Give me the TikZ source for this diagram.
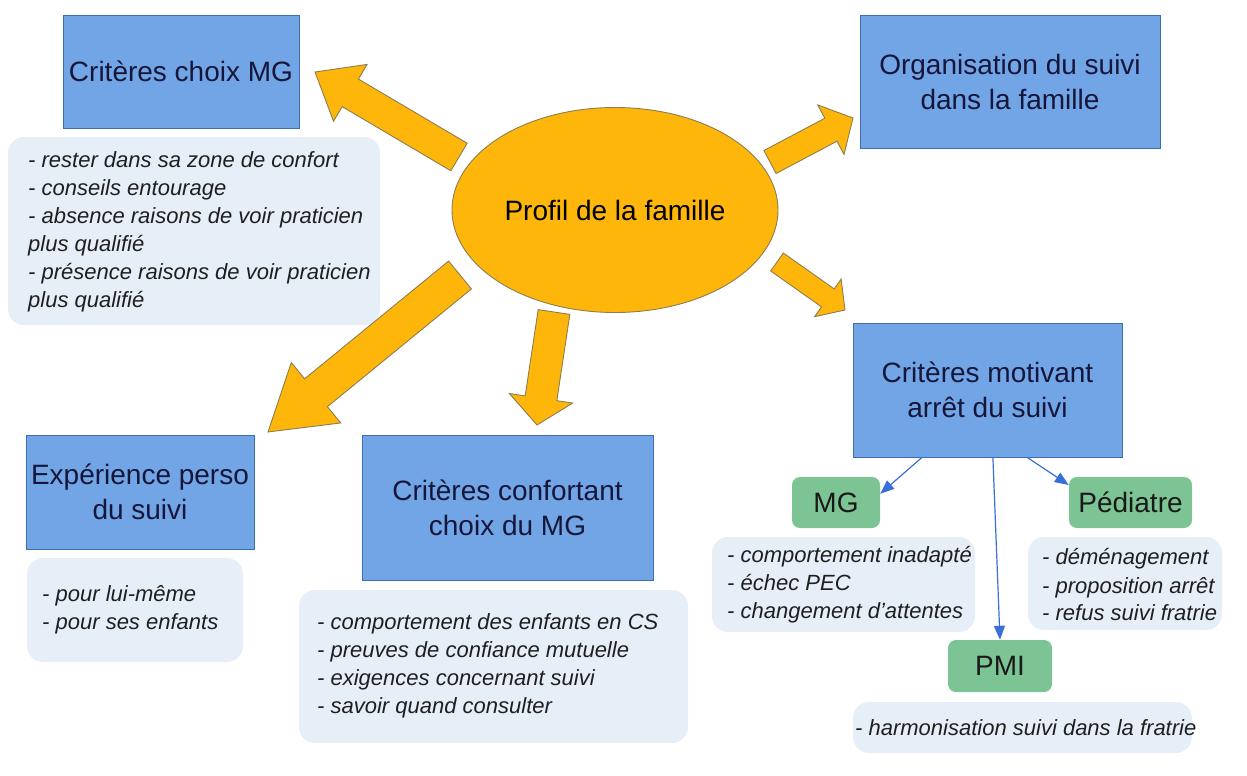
\documentclass[tikz,border=0pt]{standalone}
\usepackage{fontspec}
\setmainfont{Liberation Sans}
\usetikzlibrary{calc,shapes.geometric,arrows.meta}
\definecolor{boxblue}{HTML}{72A5E6}
\definecolor{boxborder}{HTML}{3C6EB4}
\definecolor{orangefill}{HTML}{FFB60A}
\definecolor{orangeline}{HTML}{8C7D50}
\definecolor{greenfill}{HTML}{7DC495}
\definecolor{lightfill}{HTML}{E6EFF8}
\definecolor{navy}{HTML}{16163A}
\definecolor{connblue}{HTML}{3A6FD8}
\newcommand\blockarr[5]{%
  \path ($(#2)!#5!(#1)$) coordinate (ba);
  \draw[blockarrow] ($(#1)!#3!90:(#2)$) -- ($(ba)!#3!90:(#2)$) -- ($(ba)!#4!90:(#2)$) -- (#2) -- ($(ba)!#4!-90:(#2)$) -- ($(ba)!#3!-90:(#2)$) -- ($(#1)!#3!-90:(#2)$) -- cycle;}
\begin{document}
\begin{tikzpicture}[x=1pt,y=-1pt,
  bluebox/.style={draw=boxborder, line width=0.8pt, fill=boxblue, text=navy, font=\fontsize{28}{35}\selectfont, align=center, inner sep=0pt},
  lightbox/.style={fill=lightfill, rounded corners=16pt, inner sep=0pt},
  listtext/.style={font=\itshape\fontsize{22}{28}\selectfont, align=left, text=black!88, inner sep=0pt, anchor=west},
  greenbox/.style={fill=greenfill, rounded corners=8pt, font=\fontsize{28}{34}\selectfont, text=black!90, inner sep=0pt},
  blockarrow/.style={fill=orangefill, draw=orangeline, line width=0.9pt, line join=miter},
  conn/.style={draw=connblue, line width=1.2pt, -{Triangle[length=14pt,width=11pt]}}
]
\useasboundingbox (0,0) rectangle (1247,776);

% light boxes
\node[lightbox, minimum width=372pt, minimum height=188pt] (l1) at (194,231) {};
\node[lightbox, minimum width=216pt, minimum height=104pt] (l2) at (135,610) {};
\node[lightbox, minimum width=389pt, minimum height=153pt] (l3) at (493.5,666.5) {};
\node[lightbox, minimum width=263pt, minimum height=95pt] (l4) at (843.5,584.5) {};
\node[lightbox, minimum width=194pt, minimum height=93pt] (l5) at (1125,583.5) {};
\node[lightbox, minimum width=339pt, minimum height=51pt] (l6) at (1022.5,727.5) {};

\node[listtext] (l1t) at (28,232) {- rester dans sa zone de confort\\- conseils entourage\\- absence raisons de voir praticien\\plus qualifié\\- présence raisons de voir praticien\\plus qualifié};
\node[listtext] (l2t) at (42,610) {- pour lui-même\\- pour ses enfants};
\node[listtext] (l3t) at (317,666) {- comportement des enfants en CS\\- preuves de confiance mutuelle\\- exigences concernant suivi\\- savoir quand consulter};
\node[listtext] (l4t) at (727,585) {- comportement inadapté\\- échec PEC\\- changement d'attentes};
\node[listtext] (l5t) at (1042,585) {- déménagement\\- proposition arrêt\\- refus suivi fratrie};
\node[listtext] (l6t) at (855,728) {- harmonisation suivi dans la fratrie};

% blue boxes
\node[bluebox, minimum width=236pt, minimum height=113pt] (b1) at (181,71.5) {Critères choix MG};
\node[bluebox, minimum width=300pt, minimum height=133pt] (b2) at (1010,81.5) {Organisation du suivi\\dans la famille};
\node[bluebox, minimum width=269pt, minimum height=134pt] (b3) at (987.5,390) {Critères motivant\\arrêt du suivi};
\node[bluebox, minimum width=228pt, minimum height=114pt] (b4) at (140,492) {Expérience perso\\du suivi};
\node[bluebox, minimum width=291pt, minimum height=145pt] (b5) at (507.5,507.5) {Critères confortant\\choix du MG};

% green boxes
\node[greenbox, minimum width=88pt, minimum height=51pt] (g1) at (836,502.5) {MG};
\node[greenbox, minimum width=123pt, minimum height=51pt] (g2) at (1130.5,502.5) {Pédiatre};
\node[greenbox, minimum width=104pt, minimum height=52pt] (g3) at (1000,666) {PMI};

% orange block arrows
\coordinate (a1t) at (459,157); \coordinate (a1h) at (315,72);
\coordinate (a2t) at (770,162); \coordinate (a2h) at (853,118);
\coordinate (a3t) at (777,262); \coordinate (a3h) at (845,310);
\coordinate (a4t) at (554,312); \coordinate (a4h) at (537,425);
\coordinate (a5t) at (460,275); \coordinate (a5h) at (268,432);
\blockarr{a1t}{a1h}{16pt}{33pt}{41pt}
\blockarr{a2t}{a2h}{13pt}{28pt}{25pt}
\blockarr{a3t}{a3h}{11pt}{23pt}{21pt}
\blockarr{a4t}{a4h}{16pt}{32pt}{27pt}
\blockarr{a5t}{a5h}{18pt}{39pt}{62pt}

% ellipse
\node[ellipse, fill=orangefill, draw=orangeline, line width=0.9pt, minimum width=326pt, minimum height=205pt, inner sep=0pt, font=\fontsize{28}{34}\selectfont] (pf) at (615,210) {Profil de la famille};

% blue connectors
\draw[conn] ($(b3.south west)!0.257!(b3.south east)$) -- ($(g1.north east)!0.33!(g1.south east)$);
\draw[conn] ($(b3.south west)!0.52!(b3.south east)$) -- (g3.north);
\draw[conn] ($(b3.south west)!0.647!(b3.south east)$) -- ($(g2.north west)!0.16!(g2.south west)$);
\end{tikzpicture}
\end{document}
